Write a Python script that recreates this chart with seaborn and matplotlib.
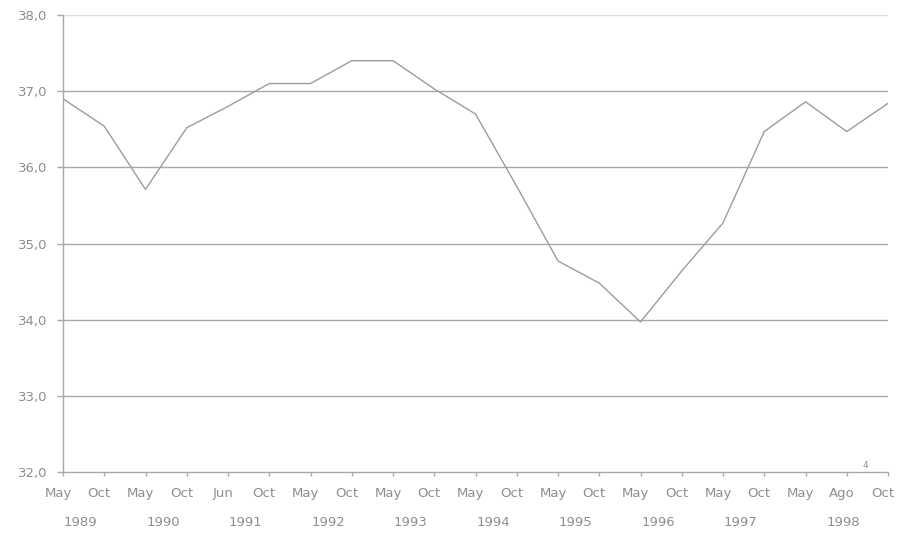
import matplotlib
matplotlib.use("Agg")
import matplotlib.pyplot as plt
import matplotlib.transforms as mtransforms
import numpy as np
import pandas as pd
import seaborn as sns

# data
months = ["May", "Oct", "May", "Oct", "Jun", "Oct", "May", "Oct", "May", "Oct",
          "May", "Oct", "May", "Oct", "May", "Oct", "May", "Oct", "May", "Ago", "Oct"]
values = [36.9, 36.54, 35.71, 36.52, 36.8, 37.1, 37.1, 37.4, 37.4, 37.03,
          36.7, 35.75, 34.77, 34.48, 33.97, 34.64, 35.27, 36.47, 36.86, 36.47, 36.84]
years = ["1989", "1990", "1991", "1992", "1993", "1994", "1995", "1996", "1997", "1998"]
year_pos = [0.5, 2.5, 4.5, 6.5, 8.5, 10.5, 12.5, 14.5, 16.5, 19]
y_ticks = [32, 33, 34, 35, 36, 37, 38]
y_labels = ["32,0", "33,0", "34,0", "35,0", "36,0", "37,0", "38,0"]

df = pd.DataFrame({"idx": np.arange(len(values)), "value": values})

sns.set_style("white")
plt.rcParams['font.family'] = ['DejaVu Sans']

text_col = "#8e8e8e"
grid_col = "#a9a9a9"
line_col = "#9c9c9c"

fig = plt.figure(figsize=(9.05, 5.36), dpi=100)
ax = fig.add_axes([63 / 905, 64 / 536, (888 - 63) / 905, (472 - 15) / 536])

# horizontal grid lines
for yv in y_ticks[1:]:
    ax.axhline(yv, color=grid_col if yv < 38 else "#dedede", lw=1.0, zorder=1)

sns.lineplot(data=df, x="idx", y="value", ax=ax, color=line_col, lw=1.0, zorder=3)

ax.set_xlim(0, len(values) - 1)
ax.set_ylim(32, 38)
ax.set_xlabel("")
ax.set_ylabel("")

for s in ["top", "right"]:
    ax.spines[s].set_visible(False)
for s in ["left", "bottom"]:
    ax.spines[s].set_color(grid_col)
    ax.spines[s].set_linewidth(1.0)

ax.set_yticks(y_ticks)
ax.set_yticklabels(y_labels)
ax.tick_params(axis="y", left=True, direction="out", length=4.5, width=1, color=grid_col,
               pad=7, labelsize=9.5, labelcolor=text_col)

ax.set_xticks(np.arange(len(months)))
ax.set_xticklabels(months)
ax.tick_params(axis="x", bottom=True, direction="out", length=3, width=1, color=grid_col,
               pad=8, labelsize=9.5, labelcolor=text_col)
shift = mtransforms.ScaledTranslation(-5 / 100, 0, fig.dpi_scale_trans)
for lab in ax.get_xticklabels():
    lab.set_transform(lab.get_transform() + shift)

# year row under the month labels
trans = mtransforms.blended_transform_factory(ax.transData, ax.transAxes)
for xp, yr in zip(year_pos, years):
    ax.text(xp, 0, yr, transform=trans + mtransforms.ScaledTranslation(-3 / 100, -50 / 100, fig.dpi_scale_trans),
            ha="center", va="center", fontsize=9.5, color=text_col)

# footnote mark beside "Ago"
ax.text(19, 0, "4", transform=trans + mtransforms.ScaledTranslation(19 / 100, 6 / 100, fig.dpi_scale_trans),
        ha="center", va="center", fontsize=6.5, color=text_col)

fig.savefig("out.png", dpi=100, facecolor="white")
